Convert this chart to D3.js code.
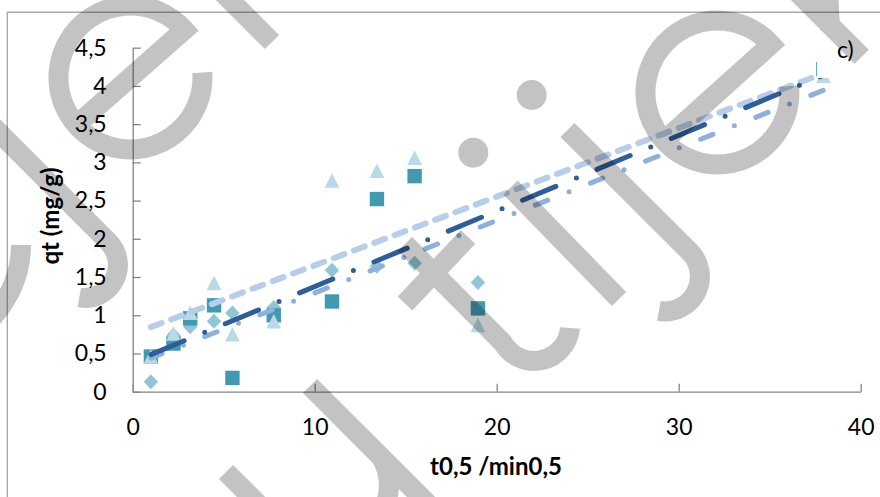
<!DOCTYPE html>
<html>
<head>
<meta charset="utf-8">
<script src="https://cdn.jsdelivr.net/npm/d3@7"></script>
<style>
  html, body { margin: 0; padding: 0; background: #fff; }
  svg { display: block; font-family: Lato, "Open Sans", sans-serif; }
</style>
</head>
<body>
<svg id="chart" width="880" height="497"></svg>
<script>
// square root of contact time (min^0.5)
const tSqrt = [1.0, 2.24, 3.16, 4.47, 5.48, 7.75, 10.95, 13.42, 15.49, 18.97, 37.95];

// adsorbed amount qt (mg/g) for the three runs
const qtDiamond  = [0.13, 0.74, 0.85, 0.92, 1.03, 1.10, 1.59, 1.64, 1.68, 1.43, 4.30];
const qtSquare   = [0.46, 0.63, 0.96, 1.13, 0.18, 1.00, 1.18, 2.52, 2.82, 1.09, 4.22];
const qtTriangle = [0.46, 0.76, 1.03, 1.42, 0.75, 0.92, 2.76, 2.89, 3.06, 0.87, 4.13];

// linear trend lines (values at the first and last time point)
const trendX        = [1.0, 37.95];
const trendTriangle = [0.845, 4.163];
const trendDiamond  = [0.439, 3.942];
const trendSquare   = [0.485, 4.139];

const xTicks = [0, 10, 20, 30, 40];
const yTicks = [0, 0.5, 1, 1.5, 2, 2.5, 3, 3.5, 4, 4.5];

const xTitle = "t0,5 /min0,5";
const yTitle = "qt (mg/g)";
const panelTag = "c)";

const svg = d3.select("#chart");
const FONT = "Lato, 'Open Sans', sans-serif";

const x = d3.scaleLinear().domain([0, 40]).range([132.7, 860.7]);
const y = d3.scaleLinear().domain([0, 4.5]).range([391.7, 47.7]);

const comma = d => String(d).replace(".", ",");

// outer chart frame
svg.append("path")
  .attr("d", "M7.3,497 V12.2 H880")
  .attr("fill", "none")
  .attr("stroke", "#a9a9a9")
  .attr("stroke-width", 1.4);

// axes with inside tick marks
const axisColor = "#868686";
const gy = svg.append("g")
  .attr("transform", `translate(${x(0)},0)`)
  .call(d3.axisLeft(y).tickValues(yTicks).tickFormat(comma)
    .tickSizeInner(-8).tickSizeOuter(0).tickPadding(26));
const gx = svg.append("g")
  .attr("transform", `translate(0,${y(0)})`)
  .call(d3.axisBottom(x).tickValues(xTicks).tickFormat(comma)
    .tickSizeInner(-8).tickSizeOuter(0).tickPadding(27));

[gx, gy].forEach(g => {
  g.attr("color", axisColor);
  g.selectAll("path, line").attr("stroke-width", 1.3);
  g.selectAll("text")
    .attr("fill", "#000")
    .style("font-size", "23px")
    .style("font-family", FONT);
});

// axis titles
svg.append("text")
  .attr("x", 496).attr("y", 475)
  .attr("text-anchor", "middle")
  .style("font-size", "24px").style("font-weight", "bold")
  .text(xTitle);

svg.append("text")
  .attr("transform", "translate(59,216) rotate(-90)")
  .attr("text-anchor", "middle")
  .style("font-size", "24px").style("font-weight", "bold")
  .text(yTitle);

// marker shapes
const shapes = {
  diamond:  "M0,-7.5 L7.2,0 L0,7.5 L-7.2,0 Z",
  square:   "M-7.2,-7.2 H7.2 V7.2 H-7.2 Z",
  triangle: "M0,-7.4 L7.4,7.1 L-7.4,7.1 Z"
};

const series = [
  { values: qtDiamond,  shape: "diamond",  color: "#92c6d7" },
  { values: qtSquare,   shape: "square",   color: "#4399b0" },
  { values: qtTriangle, shape: "triangle", color: "#b8d9e5" }
];

series.forEach(s => {
  svg.append("g")
    .selectAll("path")
    .data(tSqrt.map((t, i) => ({ t, q: s.values[i] })))
    .join("path")
    .attr("transform", d => `translate(${x(d.t)},${y(d.q)})`)
    .attr("d", shapes[s.shape])
    .attr("fill", s.color);
});

// trend lines
const line = d3.line().x(d => x(d.t)).y(d => y(d.q));
const trends = [
  { values: trendTriangle, color: "#b7cde8", width: 6, dash: "11.5 10.2", offset: 0 },
  { values: trendDiamond,  color: "#8eb0db", width: 5, dash: "13.3 23 0 23", offset: 1.3 },
  { values: trendSquare,   color: "#2f5d96", width: 5, dash: "36 22.25 0 22.25", offset: 0 }
];
trends.forEach(tr => {
  svg.append("path")
    .datum(trendX.map((t, i) => ({ t, q: tr.values[i] })))
    .attr("d", line)
    .attr("fill", "none")
    .attr("stroke", tr.color)
    .attr("stroke-width", tr.width)
    .attr("stroke-linecap", "round")
    .attr("stroke-dasharray", tr.dash)
    .attr("stroke-dashoffset", tr.offset);
});

// panel tag in a white text box
svg.append("rect")
  .attr("x", 817).attr("y", 14).attr("width", 63).attr("height", 64)
  .attr("fill", "#fff");
svg.append("text")
  .attr("x", 837).attr("y", 58)
  .style("font-size", "23px")
  .text(panelTag);

// publisher watermark drawn across the figure
const wm = svg.append("g")
  .attr("opacity", 0.23)
  .attr("fill", "none")
  .attr("stroke", "#000")
  .attr("stroke-width", 20)
  .attr("stroke-linecap", "butt")
  .attr("stroke-linejoin", "miter");

const strokes = [
  "M81,121 L184.4,29.8 A72,72 0 1 0 202.3,72.5",
  "M668.5,136.7 L771,44.3 A72,72 0 1 0 789.2,86.2",
  "M200,-30 L272,42",
  "M-30,103.4 L108.3,241.7 A33,33 0 0 1 79.3,297.5",
  "M21,245 Q21,285 -8,318",
  "M510.5,187.5 L619,299",
  "M567.5,130 L689.7,251.7 A35,35 0 0 1 658.9,310.9",
  "M405,244 L503,343 A36,36 0 0 0 570,328",
  "M405,303.5 L468,237",
  "M310,386 L440,516",
  "M380,455 Q395,480 385,505",
  "M226,472 L280,526",
  "M790,-15 L861.7,56.7",
  "M830,30 L828,-10"
];
strokes.forEach(d => wm.append("path").attr("d", d));

wm.append("circle").attr("cx", 473.3).attr("cy", 152.7).attr("r", 15)
  .attr("fill", "#000").attr("stroke", "none");
wm.append("circle").attr("cx", 531.7).attr("cy", 95).attr("r", 15)
  .attr("fill", "#000").attr("stroke", "none");
</script>
</body>
</html>
